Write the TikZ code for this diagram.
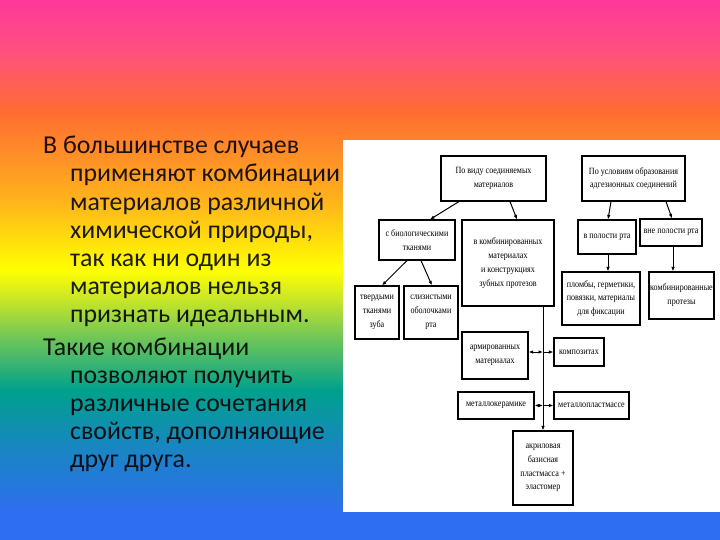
\documentclass[tikz,border=0pt]{standalone}
\usepackage{fontspec}
\setmainfont{Carlito}
\newfontfamily\scanfont[FakeStretch=0.85]{Liberation Serif}
\usetikzlibrary{arrows.meta,positioning}

\pgfdeclareverticalshading{rainbowbg}{100bp}{rgb(0bp)=(0.18,0.43,0.94); rgb(25bp)=(0.18,0.43,0.94); rgb(27.78bp)=(0.18,0.43,0.94); rgb(33.33bp)=(0.1,0.52,0.77); rgb(38.89bp)=(0,0.63,0.55); rgb(44.44bp)=(0.5,0.8,0.31); rgb(47.22bp)=(0.78,0.9,0.16); rgb(50bp)=(1,1,0); rgb(56.48bp)=(1,0.7,0.11); rgb(64.54bp)=(1,0.43,0.19); rgb(70.37bp)=(1,0.31,0.5); rgb(75bp)=(1,0.22,0.6); rgb(100bp)=(1,0.22,0.6)}

\begin{document}
\begin{tikzpicture}[x=1pt,y=-1pt,
  lead/.style={align=left,inner sep=0pt,text opacity=0.88,font=\fontsize{25.8}{28.2}\selectfont},
  box/.style={draw,line width=1.1pt,align=center,inner sep=1pt,font=\scanfont\fontsize{9.5}{13.8}\selectfont},
  arr/.style={-{Latex[length=4.5pt,width=3.5pt]},line width=1pt},
  darr/.style={{Latex[length=4.5pt,width=3.5pt]}-{Latex[length=4.5pt,width=3.5pt]},line width=1pt}]
\useasboundingbox (0,0) rectangle (720,540);
\shade[shading=rainbowbg] (0,0) rectangle (720,540);
\fill[white] (343,140) rectangle (720,512);

% text on the left
\node[lead,anchor=north west] (para1) at (43,136) {В большинстве случаев\\
\hspace*{27pt}применяют комбинации\\
\hspace*{27pt}материалов различной\\
\hspace*{27pt}химической природы,\\
\hspace*{27pt}так как ни один из\\
\hspace*{27pt}материалов нельзя\\
\hspace*{27pt}признать идеальным.};
\node[lead,below=10pt of para1.south west,anchor=north west] (para2) {Такие комбинации\\
\hspace*{27pt}позволяют получить\\
\hspace*{27pt}различные сочетания\\
\hspace*{27pt}свойств, дополняющие\\
\hspace*{27pt}друг друга.};

% scheme
\node[box,minimum width=105pt,minimum height=45pt] (vid) at (493.5,178.5) {По виду соединяемых\\материалов};
\node[box,minimum width=103pt,minimum height=45pt] (usl) at (633.5,178.5) {По условиям образования\\адгезионных соединений};
\node[box,minimum width=76pt,minimum height=40pt] (bio) at (417,240) {с биологическими\\тканями};
\node[box,minimum width=92pt,minimum height=86pt] (komb) at (508,263) {в комбинированных\\материалах\\и конструкциях\\зубных протезов};
\node[box,minimum width=58pt,minimum height=34pt] (vpol) at (607,237) {в полости рта};
\node[box,minimum width=62pt,minimum height=27pt] (vnepol) at (671,232.5) {вне полости рта};
\node[box,minimum width=44pt,minimum height=53pt] (tverd) at (377,312.5) {твердыми\\тканями\\зуба};
\node[box,minimum width=54pt,minimum height=53pt] (sliz) at (431,312.5) {слизистыми\\оболочками\\рта};
\node[box,minimum width=78pt,minimum height=53pt] (plomb) at (601,298.5) {пломбы, герметики,\\повязки, материалы\\для фиксации};
\node[box,minimum width=65pt,minimum height=47pt] (kprot) at (681.5,295.5) {комбинированные\\протезы};
\node[box,minimum width=66pt,minimum height=47pt] (arm) at (495,355.5) {армированных\\материалах};
\node[box,minimum width=50pt,minimum height=28pt] (kompoz) at (579,352) {композитах};
\node[box,minimum width=76pt,minimum height=27pt] (metker) at (496,405.5) {металлокерамике};
\node[box,minimum width=75pt,minimum height=27pt] (metpl) at (591.5,405.5) {металлопластмассе};
\node[box,minimum width=60pt,minimum height=74pt] (akril) at (543,468) {акриловая\\базисная\\пластмасса +\\эластомер};
\coordinate (trunk) at ([xshift=35pt]komb.south);

\draw[arr] ([xshift=-34.5pt]vid.south) -- ([xshift=13pt]bio.north);
\draw[arr] ([xshift=16.5pt]vid.south) -- ([xshift=9pt]komb.north);
\draw[arr] ([xshift=-22.5pt]usl.south) -- ([xshift=1pt]vpol.north);
\draw[arr] ([xshift=32.5pt]usl.south) -- ([xshift=1pt]vnepol.north);
\draw[arr] ([xshift=-10pt]bio.south) -- ([xshift=5pt]tverd.north);
\draw[arr] ([xshift=4pt]bio.south) -- ([xshift=1pt]sliz.north);
\draw[arr] ([xshift=1pt]vpol.south) -- ([xshift=1pt]vpol.south |- plomb.north);
\draw[arr] ([xshift=2pt]vnepol.south) -- ([xshift=2pt]vnepol.south |- kprot.north);
\draw[arr] (trunk) -- (trunk |- akril.north);
\draw[darr] (arm.east |- kompoz.west) -- (kompoz.west -| trunk);
\draw[arr] (kompoz.west -| trunk) -- (kompoz.west);
\draw[darr] (metker.east) -- (metker.east -| trunk);
\draw[arr] (metker.east -| trunk) -- (metpl.west);
\end{tikzpicture}
\end{document}
